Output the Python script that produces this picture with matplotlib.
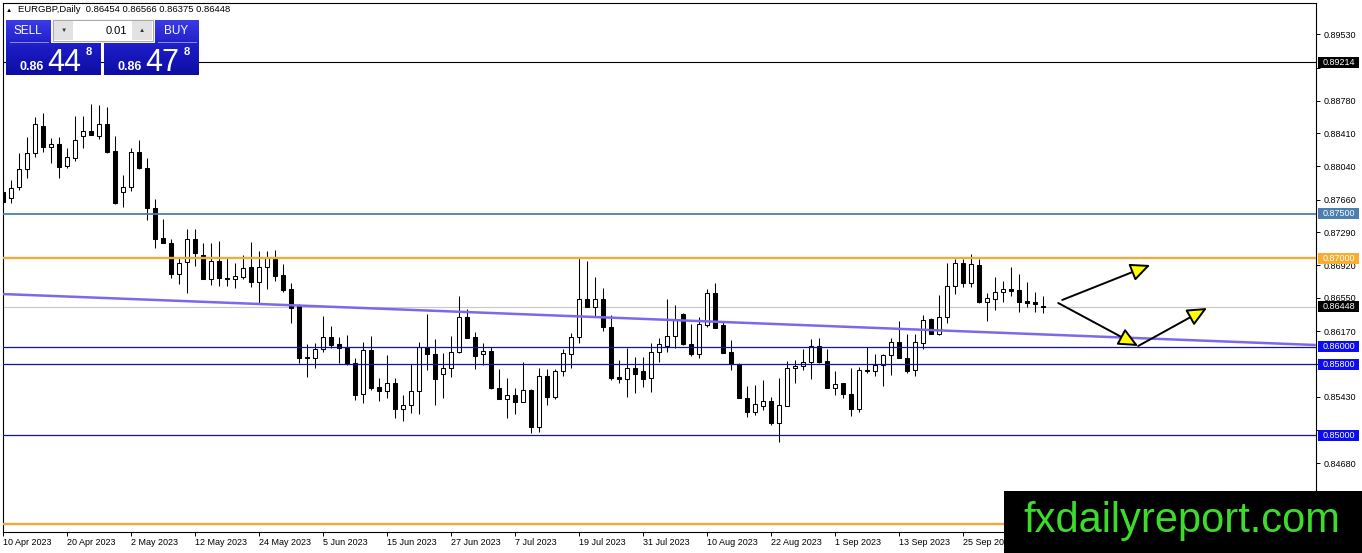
import numpy as np
import pandas as pd
import matplotlib
matplotlib.use('Agg')
import matplotlib.pyplot as plt
import matplotlib.transforms as mtransforms
from matplotlib.patches import Rectangle
from matplotlib.colors import LinearSegmentedColormap

plt.rcParams['font.family'] = ['Liberation Sans', 'DejaVu Sans']

# ---- data ----
symbol = 'EURGBP,Daily'
first_day = '2023-04-10'

opens = [0.87746, 0.87678, 0.87802, 0.88006, 0.88187, 0.88492, 0.88254, 0.88288, 0.88040, 0.88130,
         0.88379, 0.88435, 0.88379, 0.88514, 0.88209, 0.87746, 0.87802, 0.88198, 0.88017, 0.87565,
         0.87226, 0.87170, 0.86819, 0.86955, 0.87215, 0.87034, 0.86763, 0.86966, 0.86774, 0.86763,
         0.86785, 0.86898, 0.86729, 0.86898, 0.86989, 0.86808, 0.86650, 0.86458, 0.85881, 0.85870,
         0.85972, 0.86107, 0.86028, 0.85983, 0.85814, 0.85463, 0.85961, 0.85542, 0.85497, 0.85588,
         0.85294, 0.85339, 0.85497, 0.85994, 0.85915, 0.85689, 0.85757, 0.85938, 0.86333, 0.86107,
         0.85915, 0.85949, 0.85531, 0.85407, 0.85452, 0.85373, 0.85509, 0.85090, 0.85667, 0.85429,
         0.85723, 0.85915, 0.86107, 0.86537, 0.86446, 0.86537, 0.86220, 0.85655, 0.85633, 0.85757,
         0.85723, 0.85644, 0.85938, 0.86006, 0.86119, 0.86367, 0.86028, 0.85915, 0.86243, 0.86605,
         0.86243, 0.85938, 0.85802, 0.85418, 0.85260, 0.85328, 0.85384, 0.85136, 0.85328, 0.85757,
         0.85780, 0.85825, 0.86006, 0.85836, 0.85531, 0.85588, 0.85463, 0.85294, 0.85735, 0.85723,
         0.85791, 0.85904, 0.86051, 0.85870, 0.85735, 0.86040, 0.86311, 0.86141, 0.86333, 0.86684,
         0.86944, 0.86718, 0.86921, 0.86503, 0.86537, 0.86616, 0.86650, 0.86639, 0.86514, 0.86503,
         0.86454]
highs = [0.87904, 0.87882, 0.88187, 0.88367, 0.88593, 0.88639, 0.88356, 0.88367, 0.88243, 0.88605,
         0.88605, 0.88740, 0.88729, 0.88706, 0.88379, 0.87938, 0.88243, 0.88334, 0.88130, 0.87667,
         0.87441, 0.87215, 0.87000, 0.87328, 0.87328, 0.87170, 0.87170, 0.87192, 0.87000, 0.86944,
         0.87034, 0.87181, 0.87079, 0.87079, 0.87091, 0.86932, 0.86718, 0.86480, 0.86028, 0.86040,
         0.86345, 0.86232, 0.86107, 0.86130, 0.85870, 0.86051, 0.86119, 0.85644, 0.85904, 0.85644,
         0.85452, 0.85802, 0.86051, 0.86367, 0.86085, 0.85927, 0.86119, 0.86571, 0.86424, 0.86164,
         0.86040, 0.85994, 0.85746, 0.85644, 0.85531, 0.85825, 0.85520, 0.85757, 0.85746, 0.85746,
         0.85972, 0.86153, 0.87000, 0.86966, 0.86785, 0.86661, 0.86356, 0.85848, 0.85983, 0.85881,
         0.85881, 0.86040, 0.86096, 0.86537, 0.86469, 0.86380, 0.86254, 0.86333, 0.86650, 0.86718,
         0.86277, 0.86074, 0.85814, 0.85554, 0.85565, 0.85622, 0.85429, 0.85644, 0.85836, 0.85848,
         0.85972, 0.86085, 0.86096, 0.85972, 0.85723, 0.85588, 0.85757, 0.85768, 0.85994, 0.85915,
         0.85915, 0.86096, 0.86288, 0.86141, 0.86141, 0.86356, 0.86322, 0.86582, 0.86944, 0.86989,
         0.86989, 0.87045, 0.86989, 0.86605, 0.86785, 0.86740, 0.86898, 0.86819, 0.86729, 0.86616,
         0.86566]
lows = [0.87622, 0.87622, 0.87769, 0.87904, 0.88141, 0.88198, 0.88074, 0.87904, 0.88017, 0.88096,
        0.88243, 0.88390, 0.88345, 0.88187, 0.87610, 0.87576, 0.87757, 0.88006, 0.87430, 0.87113,
        0.87170, 0.86774, 0.86706, 0.86605, 0.86910, 0.86763, 0.86695, 0.86684, 0.86684, 0.86661,
        0.86763, 0.86672, 0.86492, 0.86650, 0.86740, 0.86616, 0.86266, 0.85814, 0.85655, 0.85757,
        0.85938, 0.85983, 0.85814, 0.85791, 0.85396, 0.85362, 0.85509, 0.85384, 0.85418, 0.85192,
        0.85158, 0.85249, 0.85237, 0.85735, 0.85339, 0.85418, 0.85655, 0.85927, 0.86096, 0.85746,
        0.85791, 0.85520, 0.85407, 0.85192, 0.85237, 0.85373, 0.85023, 0.85034, 0.85339, 0.85407,
        0.85667, 0.85757, 0.86040, 0.86446, 0.86345, 0.86175, 0.85622, 0.85588, 0.85429, 0.85475,
        0.85542, 0.85486, 0.85825, 0.85938, 0.85983, 0.86017, 0.85893, 0.85870, 0.86220, 0.86209,
        0.85927, 0.85735, 0.85418, 0.85203, 0.85226, 0.85283, 0.85113, 0.84921, 0.85328, 0.85588,
        0.85735, 0.85633, 0.85814, 0.85531, 0.85452, 0.85418, 0.85215, 0.85260, 0.85701, 0.85667,
        0.85554, 0.85678, 0.85870, 0.85701, 0.85667, 0.85972, 0.86141, 0.86130, 0.86266, 0.86593,
        0.86672, 0.86672, 0.86492, 0.86288, 0.86413, 0.86503, 0.86571, 0.86390, 0.86446, 0.86390,
        0.86375]
closes = [0.87633, 0.87791, 0.88006, 0.88187, 0.88514, 0.88254, 0.88288, 0.88028, 0.88141, 0.88334,
          0.88435, 0.88390, 0.88514, 0.88198, 0.87622, 0.87802, 0.88198, 0.88017, 0.87565, 0.87215,
          0.87170, 0.86819, 0.86944, 0.87215, 0.87057, 0.86763, 0.86966, 0.86774, 0.86763, 0.86797,
          0.86887, 0.86729, 0.86898, 0.87000, 0.86797, 0.86639, 0.86435, 0.85870, 0.85870, 0.85972,
          0.86107, 0.86017, 0.85983, 0.85802, 0.85452, 0.85961, 0.85531, 0.85497, 0.85588, 0.85294,
          0.85339, 0.85497, 0.85994, 0.85915, 0.85633, 0.85757, 0.85938, 0.86333, 0.86096, 0.85893,
          0.85949, 0.85531, 0.85407, 0.85452, 0.85373, 0.85509, 0.85090, 0.85667, 0.85429, 0.85723,
          0.85927, 0.86107, 0.86537, 0.86446, 0.86537, 0.86220, 0.85644, 0.85633, 0.85757, 0.85689,
          0.85633, 0.85938, 0.86028, 0.86119, 0.86311, 0.86028, 0.85915, 0.86254, 0.86605, 0.86209,
          0.85927, 0.85802, 0.85418, 0.85260, 0.85350, 0.85384, 0.85136, 0.85339, 0.85757, 0.85780,
          0.85825, 0.86006, 0.85825, 0.85531, 0.85576, 0.85463, 0.85294, 0.85735, 0.85723, 0.85791,
          0.85904, 0.86051, 0.85870, 0.85723, 0.86051, 0.86300, 0.86141, 0.86333, 0.86684, 0.86944,
          0.86718, 0.86932, 0.86503, 0.86548, 0.86616, 0.86650, 0.86627, 0.86503, 0.86492, 0.86480,
          0.86448]

# horizontal levels and their label box colours
levels = [0.89214, 0.87500, 0.87000, 0.86448, 0.86000, 0.85800, 0.85000, 0.84000]
level_line_colors = ['black', '#4a7fb0', '#f2aa3c', '#c8c8c8', '#14149a', '#14149a', '#14149a', '#f2aa3c']
level_box_colors = ['black', '#4a7fb0', '#f7ad2f', 'black', '#0c0cf0', '#0c0cf0', '#0c0cf0', None]
level_widths = [0.8, 1.3, 1.7, 0.8, 0.9, 0.9, 0.9, 1.7]

# axis ticks; labels hidden behind the level boxes are left blank
price_ticks = [0.89530, 0.89150, 0.88780, 0.88410, 0.88040, 0.87660, 0.87290, 0.86920,
               0.86550, 0.86170, 0.85800, 0.85430, 0.85060, 0.84680]
hidden_ticks = [0.89150, 0.85800, 0.85060]

# trend line (bar index, price)
trend_x = [0.0, 164.1]
trend_y = [0.86593, 0.86017]

# arrows: tail bar, tail price, head bar, head price
arrows = [(132.4, 0.86526, 143.4, 0.86921),
          (131.9, 0.86492, 141.9, 0.86006),
          (141.9, 0.86006, 150.5, 0.86435)]

bid, ask = '0.86448', '0.86478'

# ---- figure ----
W, H = 1362, 553
fig = plt.figure(figsize=(W / 100, H / 100), dpi=100)
ax = fig.add_axes([3 / W, 21 / H, 1313 / W, 529 / H])

n = len(opens)
idx = np.arange(n)
o = np.array(opens); c = np.array(closes)
hi = np.array(highs); lo = np.array(lows)
dates = pd.bdate_range(first_day, periods=n)

up = c >= o
ax.vlines(idx, lo, hi, color='black', lw=0.75, zorder=2)
body_lo = np.minimum(o, c)
body_h = np.maximum(np.abs(c - o), 0.00003)
ax.bar(idx[up], body_h[up], bottom=body_lo[up], width=0.55, color='white',
       edgecolor='black', linewidth=0.75, zorder=3)
ax.bar(idx[~up], body_h[~up], bottom=body_lo[~up], width=0.6, color='black',
       edgecolor='black', linewidth=0.75, zorder=3)

for lv, lc, lw in zip(levels, level_line_colors, level_widths):
    ax.axhline(lv, color=lc, lw=lw, zorder=4 if lc != '#c8c8c8' else 1)

ax.plot(trend_x, trend_y, color='#7b68ee', lw=1.8, zorder=4, solid_capstyle='butt')

for tx, ty, hx, hy in arrows:
    ax.annotate('', xy=(hx, hy), xytext=(tx, ty),
                arrowprops=dict(arrowstyle='-|>,head_length=1.2,head_width=0.55',
                                fc='#ffff00', ec='black', lw=1.4, mutation_scale=10,
                                shrinkA=0, shrinkB=0), zorder=6)

ax.set_xlim(0, 164.125)
ax.set_ylim(0.83904, 0.89882)

ax.yaxis.tick_right()
ax.set_yticks(price_ticks)
ax.set_yticklabels(['' if t in hidden_ticks else f'{t:.5f}' for t in price_ticks])
ax.tick_params(axis='y', direction='out', length=3, width=0.7, labelsize=6.5, pad=2.5)

xt = list(range(0, 121, 8))
ax.set_xticks(xt)
ax.set_xticklabels([f'{dates[i].day} {dates[i]:%b %Y}' for i in xt])
for lbl in ax.get_xticklabels():
    lbl.set_ha('left')
ax.tick_params(axis='x', direction='out', length=3, width=0.7, labelsize=6.5, pad=1.5)
for sp in ax.spines.values():
    sp.set_linewidth(0.8)

# price label boxes on right axis
trans = mtransforms.blended_transform_factory(ax.transAxes, ax.transData)
box_h = 11 * 0.000113
for lv, bc in zip(levels, level_box_colors):
    if bc is None:
        continue
    ax.add_patch(Rectangle((1.0015, lv - box_h / 2), 0.0312, box_h, transform=trans,
                           fc=bc, ec='none', clip_on=False, zorder=10))
    ax.text(1.0171, lv, f'{lv:.5f}', transform=trans, color='white', fontsize=6.5,
            ha='center', va='center', clip_on=False, zorder=11)

# ---- overlay in pixel coordinates: trade panel, header, watermark ----
ov = fig.add_axes([0, 0, 1, 1])
ov.set_xlim(0, W)
ov.set_ylim(H, 0)
ov.axis('off')
ov.patch.set_alpha(0)

cmap = LinearSegmentedColormap.from_list('btn', ['#3a3ae6', '#1c1cc6', '#0d0da2'])
grad = np.linspace(0, 1, 60).reshape(-1, 1)
for x0, x1 in [(6, 101), (104, 199)]:
    ov.imshow(grad, cmap=cmap, extent=(x0, x1, 75, 20), aspect='auto', zorder=1,
              interpolation='bilinear')
ov.add_patch(Rectangle((51, 19), 104, 24, fc='#f4f4f4', ec='none', zorder=2))
ov.add_patch(Rectangle((53, 20), 100, 21, fc='white', ec='#a8a8a8', lw=0.7, zorder=3))
ov.add_patch(Rectangle((54, 21), 19, 19, fc='#e2e2e2', ec='none', zorder=4))
ov.add_patch(Rectangle((132, 21), 20, 19, fc='#e2e2e2', ec='none', zorder=4))
ov.text(63.5, 30.5, '▼', fontsize=4.5, color='#333333', ha='center', va='center', zorder=5)
ov.text(142, 30.5, '▲', fontsize=4.5, color='#333333', ha='center', va='center', zorder=5)
ov.text(127, 31, '0.01', fontsize=8, color='black', ha='right', va='center', zorder=5)
ov.plot([10, 48], [42, 42], color='#8c8cff', lw=0.7, zorder=5)
ov.plot([158, 196], [42, 42], color='#8c8cff', lw=0.7, zorder=5)
ov.text(28, 31, 'SELL', fontsize=8.5, color='white', ha='center', va='center', zorder=5)
ov.text(176, 31, 'BUY', fontsize=8.5, color='white', ha='center', va='center', zorder=5)
for px, price in [(20, bid), (118, ask)]:
    ov.text(px, 70.5, price[:4], fontsize=9, fontweight='bold', color='white', zorder=5)
    ov.text(px + 27, 71, price[4:6], fontsize=22, color='white', zorder=5)
    ov.text(px + 66, 55, price[6], fontsize=8, fontweight='bold', color='white', zorder=5)

ov.text(9, 10, '▲', fontsize=4.5, color='black', ha='center', va='center')
ov.text(18, 10, f'{symbol}  {opens[-1]:.5f} {highs[-1]:.5f} {lows[-1]:.5f} {closes[-1]:.5f}',
        fontsize=6.8, color='black', ha='left', va='center')

ov.add_patch(Rectangle((1004, 491), W - 1004, H - 491, fc='black', ec='none', zorder=8))
ov.text(1182, 532, 'fxdailyreport.com', fontsize=30, color='#3ddc2b',
        ha='center', va='baseline', zorder=9)

fig.savefig('out.png', dpi=100)
